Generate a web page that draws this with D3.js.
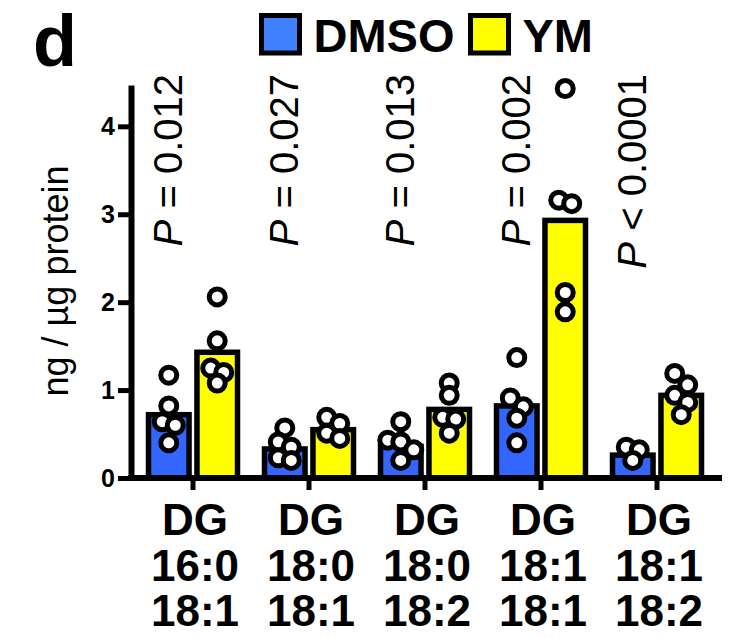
<!DOCTYPE html>
<html lang="en">
  <head>
    <meta charset="UTF-8" />
    <title>DG species</title>
    <script src="https://cdn.jsdelivr.net/npm/d3@7/dist/d3.min.js"></script>
    <style>
      html,
      body {
        margin: 0;
        padding: 0;
        background: #fff;
      }

      svg {
        display: block;
        font-family: 'Liberation Sans', Arial, sans-serif;
      }
    </style>
  </head>
  <body>
    <script>
      // values
      const categories = ['DG 16:0 18:1', 'DG 18:0 18:1', 'DG 18:0 18:2', 'DG 18:1 18:1', 'DG 18:1 18:2'];
      const series = ['DMSO', 'YM'];

      const dmsoMeans = [0.72, 0.33, 0.36, 0.82, 0.26];
      const ymMeans = [1.43, 0.55, 0.78, 2.93, 0.94];

      const dmsoPoints = [
        [1.17, 0.82, 0.64, 0.6, 0.4],
        [0.57, 0.41, 0.35, 0.23, 0.2],
        [0.64, 0.43, 0.41, 0.32, 0.2],
        [1.37, 0.91, 0.81, 0.68, 0.4],
        [0.35, 0.32, 0.2],
      ];
      const ymPoints = [
        [2.06, 1.56, 1.25, 1.2, 1.08],
        [0.69, 0.62, 0.51, 0.45],
        [1.08, 0.94, 0.69, 0.67, 0.51],
        [4.43, 3.16, 3.12, 2.11, 1.89],
        [1.19, 1.06, 0.94, 0.86, 0.72],
      ];

      const pLabels = ['= 0.012', '= 0.027', '= 0.013', '= 0.002', '< 0.0001'];
      const yTicks = [0, 1, 2, 3, 4];

      const width = 736,
        height = 638;

      const barColor = { DMSO: '#3366ff', YM: '#ffff00' };
      const keyColor = { DMSO: '#4080ff', YM: '#ffff00' };

      const svg = d3
        .select('body')
        .append('svg')
        .attr('width', width)
        .attr('height', height);

      const x = d3.scaleBand().domain(categories).range([135, 715]);
      const xSub = d3.scaleBand().domain(series).range([-47, 47]).paddingInner(0.06);
      const y = d3.scaleLinear().domain([0, 4.47]).range([478, 85]);

      const rows = categories.flatMap((c, i) => [
        { c, s: 'DMSO', mean: dmsoMeans[i], pts: dmsoPoints[i] },
        { c, s: 'YM', mean: ymMeans[i], pts: ymPoints[i] },
      ]);

      const cx = d => x(d.c) + x.bandwidth() / 2 + xSub(d.s) + xSub.bandwidth() / 2;

      // bars
      svg
        .selectAll('rect.bar')
        .data(rows)
        .join('rect')
        .attr('class', 'bar')
        .attr('x', d => cx(d) - (xSub.bandwidth() - 5) / 2)
        .attr('width', xSub.bandwidth() - 5)
        .attr('y', d => y(d.mean))
        .attr('height', d => y(0) - y(d.mean))
        .attr('fill', d => barColor[d.s])
        .attr('stroke', '#000')
        .attr('stroke-width', 5.5);

      // spread points that sit at nearly the same height
      function swarm(vals, center) {
        const ys = vals.map(v => y(v)).sort((a, b) => a - b);
        const out = [];
        let row = [];
        const flush = () => {
          row.forEach((py, k) => out.push({ x: center + (k - (row.length - 1) / 2) * 13, y: py }));
          row = [];
        };
        ys.forEach(py => {
          if (row.length && py - row[0] > 12) flush();
          row.push(py);
        });
        flush();
        return out;
      }

      const dots = rows.flatMap(d => swarm(d.pts, cx(d)));

      svg
        .selectAll('circle.pt')
        .data(dots)
        .join('circle')
        .attr('class', 'pt')
        .attr('cx', d => d.x)
        .attr('cy', d => d.y)
        .attr('r', 8)
        .attr('fill', '#fff')
        .attr('stroke', '#000')
        .attr('stroke-width', 5);

      // y axis
      const gy = svg
        .append('g')
        .attr('transform', 'translate(131,0)')
        .call(
          d3
            .axisLeft(y)
            .tickValues(yTicks)
            .tickSize(13)
            .tickSizeOuter(0)
            .tickPadding(3)
            .tickFormat(d3.format('d')),
        )
        .attr('font-family', null)
        .attr('font-size', null);
      gy.select('.domain').attr('stroke-width', 6);
      gy.selectAll('.tick line').attr('stroke-width', 5);
      gy.selectAll('.tick text')
        .attr('font-size', 25)
        .attr('font-weight', 'bold')
        .attr('fill', '#000');

      // x axis
      const gx = svg
        .append('g')
        .attr('transform', `translate(0,${y(0)})`)
        .call(d3.axisBottom(x).tickSize(12).tickSizeOuter(0).tickFormat(''));
      gx.select('.domain').remove();
      gx.selectAll('.tick line').attr('stroke-width', 5);
      gx.append('line')
        .attr('x1', 128)
        .attr('x2', 722)
        .attr('stroke', '#000')
        .attr('stroke-width', 6);

      const xl = svg
        .selectAll('text.xl')
        .data(categories)
        .join('text')
        .attr('class', 'xl')
        .attr('text-anchor', 'middle')
        .attr('font-size', 44)
        .attr('font-weight', 'bold');
      xl.selectAll('tspan')
        .data(d => d.split(' ').map(t => ({ t, c: d })))
        .join('tspan')
        .attr('x', d => x(d.c) + x.bandwidth() / 2 + 2)
        .attr('y', (d, i) => 535 + i * 45.5)
        .text(d => d.t);

      // P values
      const pt = svg
        .selectAll('text.pv')
        .data(pLabels)
        .join('text')
        .attr('class', 'pv')
        .attr(
          'transform',
          (d, i) => `translate(${x(categories[i]) + x.bandwidth() / 2 - 11},74) rotate(-90)`,
        )
        .attr('text-anchor', 'end')
        .attr('font-size', 40);
      pt.append('tspan').attr('font-style', 'italic').text('P');
      pt.append('tspan').text(d => ' ' + d);

      // y label
      svg
        .append('text')
        .attr('transform', 'translate(68,281) rotate(-90)')
        .attr('text-anchor', 'middle')
        .attr('font-size', 36)
        .text('ng / \u00b5g protein');

      // panel letter
      svg
        .append('text')
        .attr('x', 33)
        .attr('y', 66)
        .attr('font-size', 72)
        .attr('font-weight', 'bold')
        .text('d');

      // legend
      const keyX = { DMSO: 261.5, YM: 470.5 };
      const lg = svg
        .selectAll('g.key')
        .data(series)
        .join('g')
        .attr('class', 'key');
      lg.append('rect')
        .attr('x', d => keyX[d])
        .attr('y', 15.5)
        .attr('width', 38)
        .attr('height', 37.5)
        .attr('fill', d => keyColor[d])
        .attr('stroke', '#000')
        .attr('stroke-width', 5);
      lg.append('text')
        .attr('x', d => keyX[d] + 52)
        .attr('y', 52)
        .attr('font-size', 47)
        .attr('font-weight', 'bold')
        .text(d => d);
    </script>
  </body>
</html>
